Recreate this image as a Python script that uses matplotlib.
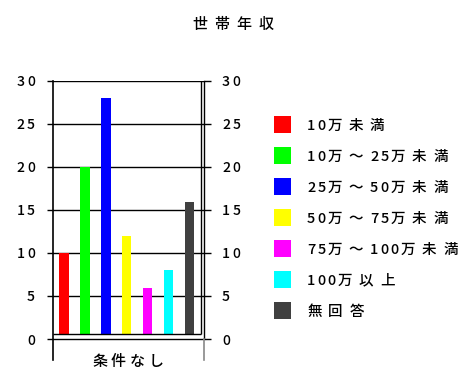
import unicodedata
import matplotlib
matplotlib.use("Agg")
import matplotlib.pyplot as plt
from matplotlib.font_manager import FontProperties
from matplotlib.patches import Rectangle

# ---- data ----
title = "世帯年収"
group_label = "条件なし"
categories = ["10万未満", "10万～25万未満", "25万～50万未満", "50万～75万未満",
              "75万～100万未満", "100万以上", "無回答"]
values = [10, 20, 28, 12, 6, 8, 16]
colors = ["#ff0000", "#00ff00", "#0000ff", "#ffff00", "#ff00ff", "#00ffff", "#404040"]
y_ticks = [0, 5, 10, 15, 20, 25, 30]

# ---- figure geometry (pixels, origin top-left) ----
W, H = 460, 372
DPI = 100
FAMILY = ["Noto Sans CJK JP", "DejaVu Sans"]
WEIGHT = "medium"

fig = plt.figure(figsize=(W / DPI, H / DPI), dpi=DPI)
fig.patch.set_facecolor("white")

ax_left, ax_right, ax_top, ax_bottom = 53, 204.5, 81, 360
ax = fig.add_axes([ax_left / W, 1 - ax_bottom / H,
                   (ax_right - ax_left) / W, (ax_bottom - ax_top) / H])
ymin = -2.40
ax.set_ylim(ymin, 30)
ax.set_xlim(-0.528, 6.72)
floor = 0.6       # floor of the inner plotting box
box_right = 6.53

x = list(range(len(values)))
ax.bar(x, [v - floor for v in values], bottom=floor, width=0.45,
       color=colors, zorder=3, linewidth=0)

# horizontal grid lines
ax.set_yticks(y_ticks)
ax.yaxis.grid(True, color="black", linewidth=1.0, zorder=1)
ax.set_axisbelow(True)
ax.set_xticks([])
ax.tick_params(axis="y", which="both", left=True, right=True, direction="out",
               length=4.5, width=1.0, labelleft=False, labelright=False)
for t in ax.yaxis.get_major_ticks():
    t.tick2line.set_markersize(5.2)

# inner box
ax.plot([-0.528, box_right], [floor, floor], color="black", lw=1.0, zorder=4,
        solid_capstyle="butt")
ax.plot([box_right, box_right], [floor, 30], color="black", lw=1.0, zorder=4,
        solid_capstyle="butt")

for side in ("top", "bottom"):
    ax.spines[side].set_visible(False)
ax.spines["left"].set_color("black")
ax.spines["left"].set_linewidth(1.2)
ax.spines["right"].set_color("black")
ax.spines["right"].set_linewidth(1.0)
ax.spines["right"].set_bounds(0, 30)
ax.plot([6.72, 6.72], [ymin, 0], color="#888888", lw=1.2, clip_on=False,
        transform=ax.transData, zorder=5)

renderer = fig.canvas.get_renderer()


def spaced_text(s, x_px, base_px, size_px, narrow_gap, wide_gap, ha="left",
                color="black"):
    """Draw text char by char with extra tracking; coords in pixels, y down."""
    fp = FontProperties(family=FAMILY, size=size_px * 72 / DPI, weight=WEIGHT)
    advances = []
    for ch in s:
        w, _, _ = renderer.get_text_width_height_descent(ch, fp, ismath=False)
        wide = unicodedata.east_asian_width(ch) in ("W", "F")
        advances.append((w, wide_gap if wide else narrow_gap))
    total = sum(w + g for w, g in advances) - advances[-1][1]
    if ha == "center":
        x_px -= total / 2
    elif ha == "right":
        x_px -= total
    for ch, (w, g) in zip(s, advances):
        fig.text(x_px / W, 1 - base_px / H, ch, fontproperties=fp,
                 ha="left", va="baseline", color=color)
        x_px += w + g


# title and group label
spaced_text(title, 233, 29, 15, 2, 7.0, ha="center")
spaced_text(group_label, 128, 366, 15, 2, 4.0, ha="center")

# y tick labels on both sides
for v in y_ticks:
    _, yd = ax.transData.transform((0, v))
    y_img = H - yd
    spaced_text(str(v), 35, y_img + 5.2, 14, 2.2, 6, ha="right")
    spaced_text(str(v), 222, y_img + 5.2, 14, 2.2, 6, ha="left")

# legend
leg_x, leg_y0, leg_pitch, sq = 274, 124.5, 31.0, 17
for i, (lab, c) in enumerate(zip(categories, colors)):
    cy = leg_y0 + i * leg_pitch
    fig.add_artist(Rectangle((leg_x / W, 1 - (cy + sq / 2) / H), sq / W, sq / H,
                             transform=fig.transFigure, facecolor=c,
                             edgecolor="none"))
    spaced_text(lab, 307, cy + 5.4, 14.5, 2.0, 6.8, ha="left")

fig.savefig("out.png", dpi=DPI, facecolor="white")
